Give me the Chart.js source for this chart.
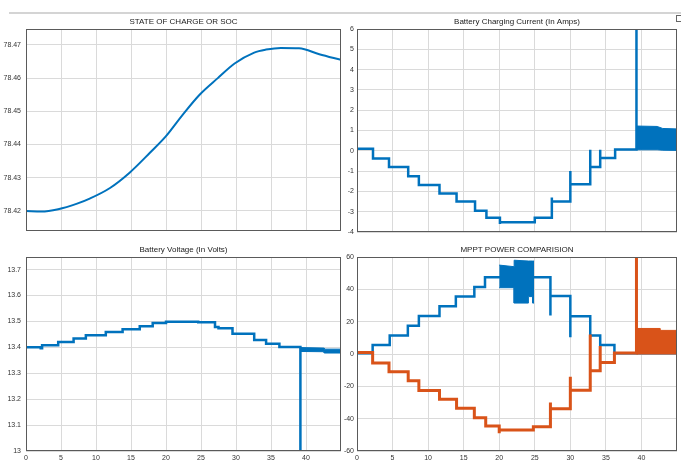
<!DOCTYPE html>
<html lang="en">
<head>
  <meta charset="UTF-8" />
  <title>Solar MPPT Battery Charging</title>
  <style>
    body { margin: 0; background: #fff; }
    #wrap { position: relative; width: 681px; height: 466px; overflow: hidden; background: #fff; }
    #wrap canvas { position: absolute; }
    .topline { position: absolute; left: 9px; top: 12px; width: 672px; height: 2px; background: #d4d4d4; }
    .icon { position: absolute; left: 676px; top: 15px; width: 4px; height: 5px; border: 1px solid #666; }
  </style>
</head>
<body>
  <div id="wrap">
    <div class="topline"></div>
    <div class="icon"></div>
    <canvas id="socChart" width="345" height="226" style="left:0;top:14px"></canvas>
    <canvas id="currentChart" width="340" height="226" style="left:341px;top:14px"></canvas>
    <canvas id="voltageChart" width="345" height="226" style="left:0;top:240px"></canvas>
    <canvas id="powerChart" width="340" height="226" style="left:341px;top:240px"></canvas>
  </div>

  <script src="https://cdn.jsdelivr.net/npm/chart.js@4.4.1/dist/chart.umd.min.js"></script>
  <script>
    // ---- data (time in s) ----
    const xTicks = [0, 5, 10, 15, 20, 25, 30, 35, 40];

    // state of charge
    const socTime = [0, 2.2, 4.6, 7.2, 9.1, 12.0, 14.8, 17.7, 20.0, 22.4, 24.8, 27.4, 29.8, 32.6, 34.3, 36.4, 39.0, 41.9, 45];
    const socValue = [78.4200, 78.4198, 78.4205, 78.4221, 78.4237, 78.4269, 78.4315, 78.4375, 78.4425, 78.4490,
      78.4550, 78.4600, 78.4644, 78.4677, 78.4686, 78.4691, 78.4690, 78.4672, 78.4655];
    const socTicks = [78.42, 78.43, 78.44, 78.45, 78.46, 78.47];

    // battery charging current (step levels, spikes repeat the time)
    const curTime = [0, 2.25, 4.5, 7.2, 8.7, 11.6, 14.0, 16.6, 18.2, 20.1, 20.1, 25.0, 27.4, 27.4, 30.0, 30.0,
      32.8, 32.8, 34.2, 34.2, 36.3, 39.3, 39.3];
    const curValue = [0.1, -0.38, -0.8, -1.25, -1.68, -2.1, -2.5, -2.95, -3.3, -3.6, -3.52, -3.3, -2.3, -2.5, -1.0, -1.65,
      0.05, -0.8, 0.05, -0.35, 0.06, 6.5, 0.1];
    const curBandTime = [39.3, 42.2, 43.0, 45];
    const curBandTop = [1.22, 1.2, 1.1, 1.08];
    const curBandBottom = [0.05, 0.05, 0.03, 0.02];
    const curTicks = [-4, -3, -2, -1, 0, 1, 2, 3, 4, 5, 6];

    // battery voltage
    const voltTime = [0, 2.1, 2.3, 4.6, 6.8, 8.55, 11.4, 13.8, 16.25, 18.1, 20.0, 24.6, 27.0, 27.5, 29.5, 32.6, 34.3, 36.2, 39.2];
    const voltValue = [13.400, 13.396, 13.408, 13.421, 13.434, 13.447, 13.459, 13.470, 13.481, 13.494, 13.499, 13.497,
      13.478, 13.474, 13.452, 13.428, 13.414, 13.401, 12.9];
    const voltBandTime = [39.2, 42.6, 42.6, 45];
    const voltBandTop = [13.399, 13.397, 13.393, 13.393];
    const voltBandBottom = [13.384, 13.383, 13.378, 13.378];
    const voltTicks = [13, 13.1, 13.2, 13.3, 13.4, 13.5, 13.6, 13.7];

    // MPPT power comparison
    const pvTime = [0, 2.2, 4.6, 7.15, 8.7, 11.6, 13.9, 16.5, 18.0, 27.2, 27.2, 30.0, 30.0, 32.8, 34.2, 36.2, 45];
    const pvPower = [0.5, 5.5, 11.5, 17.5, 23.5, 29.5, 35.5, 41.5, 47.5, 23.8, 35.8, 10.3, 23.4, 11.4, 5.6, 0.5, 0.5];
    const pvBandTime = [20.0, 22.1, 22.1, 24.1, 24.1, 24.7, 24.7, 24.9];
    const pvBandTop = [55, 54, 58, 57.5, 57.5, 57.5, 57.5, 57.5];
    const pvBandBottom = [41, 41, 31.5, 31.5, 35.5, 35.5, 31.5, 31.5];

    const battTime = [0, 2.2, 4.5, 7.2, 8.7, 11.6, 14.0, 16.5, 18.1, 20.0, 20.0, 24.8, 27.2, 27.2, 30.0, 30.0,
      32.8, 32.8, 34.2, 34.2, 36.2, 39.3, 39.3];
    const battPower = [1, -5.5, -11, -16.5, -22.5, -28, -33.5, -39.5, -44.5, -49, -47, -45, -30, -33.8, -14, -22.4,
      12, -10.4, 5, -5.2, 0.6, 65, 0.5];
    const battBandTime = [39.3, 42.6, 42.6, 45];
    const battBandTop = [15.8, 15.8, 14.6, 14.6];
    const battBandBottom = [0, 0, 0, 0];
    const powerTicks = [-60, -40, -20, 0, 20, 40, 60];

    // ---- chart setup ----
    const FONT = '"Liberation Sans Narrow", "Arial Narrow", "Liberation Sans", Arial, sans-serif';
    const BLUE = '#0072BD';
    const ORANGE = '#D95319';
    const GRID = '#dadada';

    const pts = (xs, ys) => xs.map((x, i) => ({ x: x, y: ys[i] }));

    const boxFrame = {
      id: 'boxFrame',
      afterDatasetsDraw(chart) {
        const a = chart.chartArea;
        const ctx = chart.ctx;
        ctx.save();
        ctx.strokeStyle = '#5a5a5a';
        ctx.lineWidth = 1;
        ctx.strokeRect(Math.round(a.left) + 0.5, Math.round(a.top) + 0.5,
          Math.round(a.right - a.left) - 1, Math.round(a.bottom - a.top) - 1);
        ctx.restore();
      }
    };

    // 'before' in Chart.js = hold the level, then jump at the next time
    const stepLine = (xs, ys, color, width) => ({
      data: pts(xs, ys), borderColor: color, borderWidth: width,
      pointRadius: 0, stepped: 'before', fill: false
    });

    const bandPair = (xs, top, bottom, color) => [
      { data: pts(xs, top), borderColor: color, backgroundColor: color, borderWidth: 1, pointRadius: 0, fill: '+1' },
      { data: pts(xs, bottom), borderColor: color, borderWidth: 1, pointRadius: 0, fill: false }
    ];

    const xScale = (showLabels) => ({
      type: 'linear', min: 0, max: 45,
      afterBuildTicks: s => { s.ticks = xTicks.map(v => ({ value: v })); },
      afterFit: s => { s.height = showLabels ? 15 : 0; },
      grid: { color: GRID, drawTicks: false },
      border: { display: false },
      ticks: {
        display: showLabels, autoSkip: false, maxRotation: 0, padding: 3,
        color: '#333', font: { family: FONT, size: 7 }, callback: v => v
      }
    });

    const yScale = (min, max, ticks, width, pad, fmt) => ({
      type: 'linear', min: min, max: max,
      afterBuildTicks: s => { s.ticks = ticks.map(v => ({ value: v })); },
      afterFit: s => { s.width = width; },
      grid: { color: GRID, drawTicks: false },
      border: { display: false },
      ticks: {
        autoSkip: false, padding: pad, color: '#333',
        font: { family: FONT, size: 7 }, callback: fmt
      }
    });

    const makeChart = (id, title, titleTop, datasets, yOpts, showX, padBottom) =>
      new Chart(document.getElementById(id), {
        type: 'line',
        data: { datasets: datasets },
        options: {
          responsive: false,
          animation: false,
          devicePixelRatio: 1,
          layout: { padding: { left: 0, right: 4, top: 0, bottom: padBottom } },
          plugins: {
            legend: { display: false },
            tooltip: { enabled: false },
            title: {
              display: true, text: title, fullSize: false, color: '#222',
              font: { family: FONT, size: 8, weight: 'normal', lineHeight: 1 },
              padding: { top: titleTop, bottom: 3 }
            }
          },
          scales: { x: xScale(showX), y: yOpts }
        },
        plugins: [boxFrame]
      });

    makeChart('socChart', 'STATE OF CHARGE OR SOC', 4,
      [{ data: pts(socTime, socValue), borderColor: BLUE, borderWidth: 2, pointRadius: 0,
         cubicInterpolationMode: 'monotone', fill: false }],
      yScale(78.414, 78.4748, socTicks, 26, 5, v => v.toFixed(2)), false, 8);

    makeChart('currentChart', 'Battery Charging Current (In Amps)', 4,
      [stepLine(curTime, curValue, BLUE, 2.5)].concat(bandPair(curBandTime, curBandTop, curBandBottom, BLUE)),
      yScale(-4, 6, curTicks, 16, 3, v => v), false, 8);

    makeChart('voltageChart', 'Battery Voltage (In Volts)', 6,
      [stepLine(voltTime, voltValue, BLUE, 2.5)].concat(bandPair(voltBandTime, voltBandTop, voltBandBottom, BLUE)),
      yScale(13, 13.7485, voltTicks, 26, 5, v => String(Math.round(v * 10) / 10)), true, 0);

    makeChart('powerChart', 'MPPT POWER COMPARISION', 6,
      [stepLine(battTime, battPower, ORANGE, 3)]
        .concat(bandPair(battBandTime, battBandTop, battBandBottom, ORANGE))
        .concat([stepLine(pvTime, pvPower, BLUE, 2.5)])
        .concat(bandPair(pvBandTime, pvBandTop, pvBandBottom, BLUE)),
      yScale(-60, 60, powerTicks, 16, 3, v => v), true, 0);
  </script>
</body>
</html>
